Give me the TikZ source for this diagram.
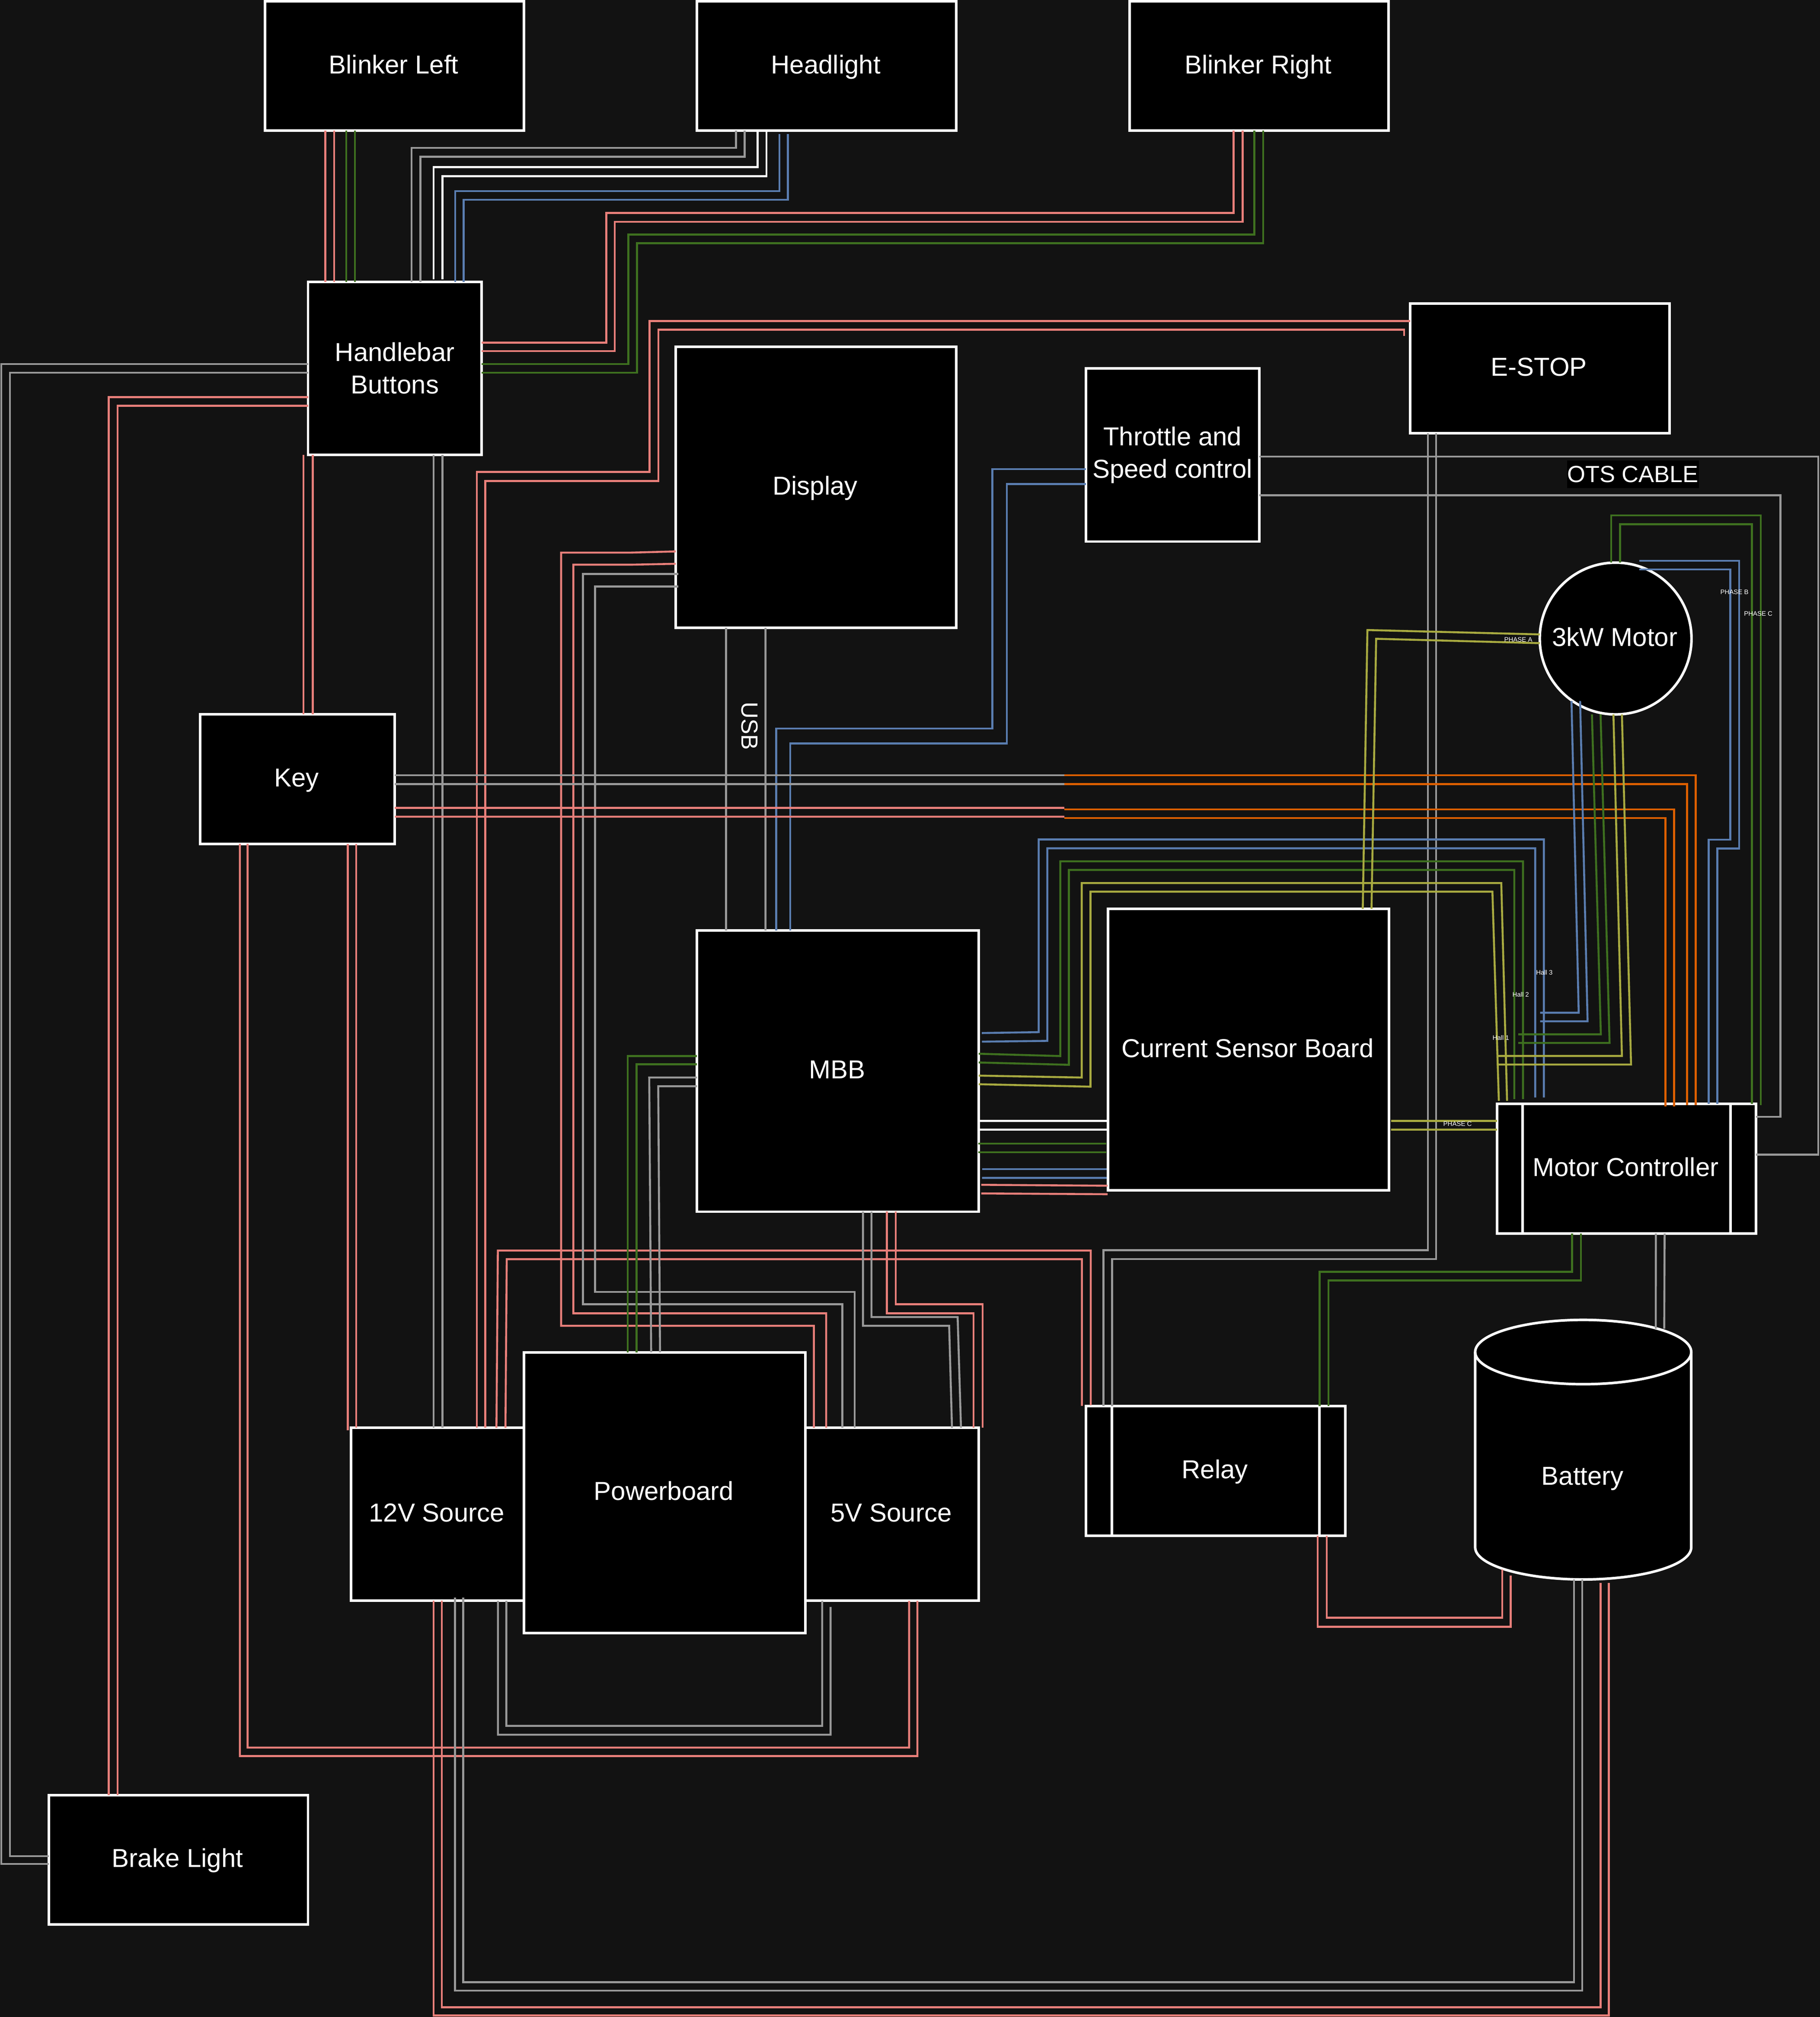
\documentclass[tikz,border=0pt]{standalone}
\usepackage{fontspec}
\setmainfont{Liberation Sans}
\usetikzlibrary{calc,shapes.geometric}
\definecolor{bgdark}{HTML}{121212}
\definecolor{wirepink}{HTML}{E87F7A}
\definecolor{wiregray}{HTML}{999999}
\definecolor{wireblue}{HTML}{5A7DB0}
\definecolor{wiregreen}{HTML}{3E701F}
\definecolor{wireyellow}{HTML}{A8AA40}
\definecolor{wireorange}{HTML}{DD5F00}
\tikzset{
  box/.style={draw=white,fill=black,text=white,line width=2pt,rectangle,outer sep=0pt,inner sep=0pt,
    font=\fontsize{20.17}{25.2}\selectfont},
  oneline/.style={box,text height=17pt,text depth=5.2pt,execute at begin node={\kern-1.4pt}},
  twolines/.style={box,align=center},
  wire/.style={line width=1.55pt},
  pinkw/.style={wire,wirepink},
  grayw/.style={wire,wiregray},
  bluew/.style={wire,wireblue},
  greenw/.style={wire,wiregreen},
  yelloww/.style={wire,wireyellow},
  orangew/.style={wire,wireorange},
  whitew/.style={wire,white},
  tiny label/.style={text=white,inner sep=0pt,font=\fontsize{5.04}{6}\selectfont},
  big label/.style={text=white,inner sep=0pt,font=\fontsize{18.15}{22}\selectfont}
}
\begin{document}
\begin{tikzpicture}[x=1pt,y=-1pt]

  \fill [bgdark] (0,0) rectangle (1415.13,1568.07);
  \useasboundingbox (0,0) rectangle (1415.13,1568.07);

  % boxes
  \node [oneline, minimum width=201.5pt, minimum height=100.6pt] at(306.75,51.3) (blinkl) {Blinker Left};
  \node [oneline, minimum width=201.5pt, minimum height=100.6pt] at(642.75,51.3) (headlight) {Headlight};
  \node [oneline, minimum width=201.5pt, minimum height=100.6pt] at(978.95,51.3) (blinkr) {Blinker Right};
  \node [twolines, minimum width=135pt, minimum height=134.7pt] at(307,286.35) (hbar) {Handlebar\\Buttons};
  \node [oneline, minimum width=218.2pt, minimum height=218.6pt] at(634.5,378.8) (display) {Display};
  \node [twolines, minimum width=134.7pt, minimum height=134.7pt] at(911.65,353.65) (throttle) {Throttle and\\Speed control};
  \node [oneline, minimum width=201.5pt, minimum height=100.7pt] at(1197.25,286.45) (estop) {E-STOP};
  \node [oneline, circle, minimum size=118pt] at(1256.2,496.4) (motor) {3kW Motor};
  \node [oneline, minimum width=151.5pt, minimum height=100.7pt] at(231.25,605.65) (key) {Key};
  \node [oneline, minimum width=219pt, minimum height=218.7pt] at(651.5,832.65) (mbb) {MBB};
  \node [oneline, minimum width=218.5pt, minimum height=218.7pt] at(970.75,815.95) (csb) {Current Sensor Board};
  \node [oneline, minimum width=201.4pt, minimum height=101pt] at(1264.7,908.5) (mctrl) {Motor Controller};
  \node [oneline, minimum width=134.5pt, minimum height=134.5pt] at(340.25,1177.25) (src12) {12V Source};
  \node [oneline, minimum width=134.8pt, minimum height=134.5pt] at(693.6,1177.25) (src5) {5V Source};
  \node [oneline, minimum width=218.7pt, minimum height=218.3pt] at(516.85,1160.45) (powerb) {Powerboard};
  \node [oneline, minimum width=201.5pt, minimum height=101pt] at(945.25,1143.5) (relay) {Relay};
  \node [oneline, minimum width=201.5pt, minimum height=100.6pt] at(138.75,1445.8) (brake) {Brake Light};

  \foreach \n/\d in {mctrl/20,mctrl/181.4,relay/20,relay/181.5}
    \draw [white,line width=2pt] ($(\n.north west)+(\d,0)$) -- ($(\n.south west)+(\d,0)$);

  % battery is a cylinder drawn round an empty node
  \node [inner sep=0pt, outer sep=0pt, minimum width=168pt, minimum height=201.8pt] at(1231,1127) (battery) {};
  \filldraw [white, fill=black, line width=2pt] ($(battery.north west)+(0,25)$)
    arc [start angle=180, end angle=0, x radius=84pt, y radius=25pt]
    -- ($(battery.south east)+(0,-25)$)
    arc [start angle=0, end angle=-180, x radius=84pt, y radius=25pt] -- cycle;
  \draw [white, line width=2pt] ($(battery.north west)+(0,25)$)
    arc [start angle=180, end angle=360, x radius=84pt, y radius=25pt];
  \node [oneline, draw=none, fill=none] at($(battery.center)+(.2,21.4)$) (batterytext) {Battery};

  % handlebar wiring
  \draw [pinkw] ($(blinkl.south west)+(47,0)$) -- ($(hbar.north west)+(13.5,0)$);
  \draw [pinkw] ($(blinkl.south west)+(53.8,0)$) -- ($(hbar.north west)+(20.3,0)$);
  \draw [greenw] ($(blinkl.south west)+(63.2,0)$) -- ($(hbar.north west)+(29.7,0)$);
  \draw [greenw] ($(blinkl.south west)+(70,0)$) -- ($(hbar.north west)+(36.5,0)$);

  \draw [grayw] ($(headlight.south west)+(30.2,0)$) |- (320,115) -- ($(hbar.north west)+(80.5,0)$);
  \draw [grayw] ($(headlight.south west)+(37,0)$) |- (326.8,121.9) -- ($(hbar.north west)+(87.3,0)$);
  \draw [whitew] ($(headlight.south west)+(47,0)$) |- (337.2,130) -- ($(hbar.north west)+(97.7,-2)$);
  \draw [whitew] ($(headlight.south west)+(54,0)$) |- (344,137) -- ($(hbar.north west)+(104.5,-2)$);
  \draw [bluew] ($(headlight.south west)+(64,2.5)$) |- (353.9,148.6) -- ($(hbar.north west)+(114.4,0)$);
  \draw [bluew] ($(headlight.south west)+(70.7,2.5)$) |- (360.6,155.3) -- ($(hbar.north west)+(121.1,0)$);

  \draw [pinkw] ($(hbar.north east)+(0,47.3)$) -| (471.4,165.6) -| ($(blinkr.south west)+(81,0)$);
  \draw [pinkw] ($(hbar.north east)+(0,54)$) -| (478,172.4) -| ($(blinkr.south west)+(88,0)$);
  \draw [greenw] ($(hbar.north east)+(0,64)$) -| (488.5,182.3) -| ($(blinkr.south west)+(97,0)$);
  \draw [greenw] ($(hbar.north east)+(0,70.7)$) -| (495.2,189) -| ($(blinkr.south west)+(104,0)$);

  \draw [grayw] ($(hbar.south west)+(97.7,0)$) -- ($(src12.north west)+(64.2,0)$);
  \draw [grayw] ($(hbar.south west)+(104.5,0)$) -- ($(src12.north west)+(71,0)$);
  \draw [pinkw] ($(hbar.south west)+(-3.6,0)$) -- ($(key.north west)+(80.4,0)$);
  \draw [pinkw] ($(hbar.south west)+(3.6,0)$) -- ($(key.north west)+(87.6,0)$);

  \draw [grayw] ($(hbar.north west)+(0,64)$) -| (1,1449) -- ($(brake.north west)+(0,53.5)$);
  \draw [grayw] ($(hbar.north west)+(0,70.7)$) -| (7.7,1443) -- ($(brake.north west)+(0,47.5)$);
  \draw [pinkw] ($(hbar.north west)+(0,89.7)$) -| ($(brake.north west)+(46.6,0)$);
  \draw [pinkw] ($(hbar.north west)+(0,96.5)$) -| ($(brake.north west)+(53.4,0)$);

  % e-stop and relay
  \draw [pinkw] ($(src12.north west)+(97.7,0)$) |- (505,366.9) |- ($(estop.north west)+(0,13.4)$);
  \draw [pinkw] ($(src12.north west)+(104.3,0)$) |- (511.9,374) |- (1091.7,256.3) -- ($(estop.north west)+(-4.8,25.1)$);
  \draw [grayw] ($(estop.south west)+(13.8,0)$) |- (857.9,972) -- ($(relay.north west)+(13.4,0)$);
  \draw [grayw] ($(estop.south west)+(20.1,0)$) |- (864.6,978.8) -- ($(relay.north west)+(20.1,0)$);
  \draw [pinkw] ($(src12.north west)+(113,0)$) -- (387.1,972.2) -| ($(relay.north west)+(3.6,-.6)$);
  \draw [pinkw] ($(src12.north west)+(120,0)$) -- (394,978.9) -| ($(relay.north west)+(-3.3,0)$);
  \draw [greenw] ($(mctrl.south west)+(58.4,0)$) |- (1026.1,988.8) -- ($(relay.north east)+(-19.9,0)$);
  \draw [greenw] ($(mctrl.south west)+(65.2,0)$) |- (1032.9,995.5) -- ($(relay.north east)+(-13.1,0)$);
  \draw [pinkw] ($(relay.south west)+(180,0)$) |- (1174.6,1264.6) -- ($(battery.center)+(-56.4,98)$);
  \draw [pinkw] ($(relay.south west)+(187.1,0)$) |- (1168,1257.7) -- ($(battery.center)+(-63,93.3)$);

  % display
  \draw [pinkw] ($(display.north west)+(0,159.2)$) -- (490.7,429.6) -| (436.3,1030.7) -| ($(src5.north west)+(6.6,0)$);
  \draw [pinkw] ($(display.north west)+(0,168.8)$) -- (490.7,439) -| (445.8,1021) -| ($(src5.north west)+(16.2,0)$);
  \draw [grayw] ($(display.north west)+(2,176.8)$) -| (453.2,1014) -| ($(src5.north west)+(28.8,0)$);
  \draw [grayw] ($(display.north west)+(2,186.5)$) -| (462.7,1004.3) -| ($(src5.north west)+(38.3,0)$);
  \draw [grayw] ($(display.south west)+(39.2,0)$) -- ($(mbb.north west)+(22.6,0)$);
  \draw [grayw] ($(display.south west)+(69.8,0)$) -- ($(mbb.north west)+(53.2,0)$);
  \draw [bluew] ($(throttle.north west)+(0,78.4)$) -| (771.5,566.4) -| ($(mbb.north west)+(61.5,0)$);
  \draw [bluew] ($(throttle.north west)+(0,90)$) -| (782.8,577.9) -| ($(mbb.north west)+(72.5,0)$);

  % key to controller
  \coordinate (tap1) at (827.6,602.7);
  \coordinate (tap2) at (827.6,609.5);
  \coordinate (tap3) at (827.6,628.1);
  \coordinate (tap4) at (827.6,634.9);
  \draw [grayw] ($(key.north east)+(0,47.4)$) -- (tap1);
  \draw [grayw] ($(key.north east)+(0,54.2)$) -- (tap2);
  \draw [pinkw] ($(key.north east)+(0,72.8)$) -- (tap3);
  \draw [pinkw] ($(key.north east)+(0,79.6)$) -- (tap4);
  \draw [orangew] (tap1) -| ($(mctrl.north west)+(154.4,1)$);
  \draw [orangew] (tap2) -| ($(mctrl.north west)+(147.7,1)$);
  \draw [orangew] ($(tap3)+(0,1.2)$) -| ($(mctrl.north west)+(137.6,2)$);
  \draw [orangew] ($(tap4)+(0,1)$) -| ($(mctrl.north west)+(131,2)$);
  \draw [pinkw] ($(key.south west)+(31,0)$) |- (713.3,1365.2) -- ($(src5.south west)+(87.1,0)$);
  \draw [pinkw] ($(key.south west)+(37,0)$) |- (706.9,1358.6) -- ($(src5.south west)+(80.7,0)$);
  \draw [pinkw] ($(key.south west)+(115,0)$) -- ($(src12.north west)+(-2.5,2)$);
  \draw [pinkw] ($(key.south west)+(121.5,0)$) -- ($(src12.north west)+(4,0)$);

  % mbb to controller
  \draw [bluew] ($(mbb.north east)+(2.4,79.8)$) -- (807.6,802.4) |- (1200.4,652.6) -- ($(mctrl.north west)+(36.4,-4.8)$);
  \draw [bluew] ($(mbb.north east)+(2.5,86.5)$) -- (814.3,809.2) |- (1193.7,659.5) -- ($(mctrl.north west)+(29.7,-4.8)$);
  \draw [greenw] ($(mbb.north east)+(0,95.9)$) -- (824.4,821) |- (1184.2,669.6) -- ($(mctrl.north west)+(20.2,-3.5)$);
  \draw [greenw] ($(mbb.north east)+(0,102.7)$) -- (831.1,827.8) |- (1177.4,676.3) -- ($(mctrl.north west)+(13.4,-3.5)$);
  \draw [yelloww] ($(mbb.north east)+(0,112.9)$) -- (841.1,837.7) |- (1167.3,686.5) -- ($(mctrl.north west)+(7.8,-2.2)$);
  \draw [yelloww] ($(mbb.north east)+(0,119.6)$) -- (847.9,844.8) |- (1160.4,693.2) -- ($(mctrl.north west)+(1.4,-2.2)$);

  % motor
  \draw [bluew] ($(motor.south)+(-34.3,-10.4)$) -- (1227.5,787.3) -- ($(mctrl.north west)+(33.5,-70.7)$);
  \draw [bluew] ($(motor.south)+(-27.6,-10.4)$) -- (1234.4,794) -- ($(mctrl.north west)+(33.5,-64)$);
  \draw [greenw] ($(motor.south)+(-18.4,0)$) -- (1244.7,804.1) -- ($(mctrl.north west)+(16.5,-53.9)$);
  \draw [greenw] ($(motor.south)+(-11.7,0)$) -- (1251.5,810.8) -- ($(mctrl.north west)+(16.5,-47.2)$);
  \draw [yelloww] ($(motor.south)+(-1.7,0)$) -- (1261.1,820.9) -- ($(mctrl.north west)+(-.3,-37.1)$);
  \draw [yelloww] ($(motor.south)+(4.9,0)$) -- (1268.2,827.6) -- ($(mctrl.north west)+(-.3,-30.4)$);
  \draw [greenw] ($(motor.north)+(-3.4,0)$) |- (1369,400.7) -- ($(mctrl.north west)+(205,1)$);
  \draw [greenw] ($(motor.north)+(3.4,0)$) |- (1362.2,407.5) -- ($(mctrl.north west)+(198.2,0)$);
  \draw [bluew] ($(motor.north)+(18.3,-1.4)$) -| (1352.2,659.6) -| ($(mctrl.north west)+(171.3,0)$);
  \draw [bluew] ($(motor.north)+(18.3,5.3)$) -| (1345.4,652.8) -| ($(mctrl.north west)+(164.6,0)$);
  \draw [yelloww] ($(motor.west)+(0,-3.2)$) -- (1063.2,489.8) -- ($(csb.north west)+(198.1,0)$);
  \draw [yelloww] ($(motor.west)+(0,3.6)$) -- (1070,496.6) -- ($(csb.north west)+(204.9,0)$);

  % current sensor board
  \draw [yelloww] ($(csb.north east)+(1.5,164.9)$) -- ($(mctrl.north west)+(0,13.5)$);
  \draw [yelloww] ($(csb.north east)+(1.5,171.6)$) -- ($(mctrl.north west)+(0,20.2)$);
  \draw [whitew] ($(mbb.north east)+(0,148.1)$) -- ($(csb.north west)+(0,164.8)$);
  \draw [whitew] ($(mbb.north east)+(0,154.9)$) -- ($(csb.north west)+(0,171.6)$);
  \draw [greenw] ($(mbb.north east)+(-.4,165.8)$) -- ($(csb.north west)+(-1.4,182.5)$);
  \draw [greenw] ($(mbb.north east)+(-.4,172.5)$) -- ($(csb.north west)+(-1.4,189.2)$);
  \draw [bluew] ($(mbb.north east)+(2.6,185.6)$) -- ($(csb.north west)+(-1,202.3)$);
  \draw [bluew] ($(mbb.north east)+(2.6,192.4)$) -- ($(csb.north west)+(-1,209.1)$);
  \draw [pinkw] ($(mbb.north east)+(2,197.8)$) -- ($(csb.north west)+(-.3,215.2)$);
  \draw [pinkw] ($(mbb.north east)+(2,204.5)$) -- ($(csb.north west)+(-.3,221.8)$);

  % ots cable
  \draw [grayw] ($(throttle.north east)+(0,68.7)$) -| (1413.7,897.7) -- ($(mctrl.north east)+(0,39.7)$);
  \draw [grayw] ($(throttle.north east)+(0,98.7)$) -| (1384.4,868.2) -- ($(mctrl.north east)+(0,10.2)$);
  \draw [grayw] ($(mctrl.south west)+(123.5,0)$) -- ($(battery.center)+(56.4,-94)$);
  \draw [grayw] ($(mctrl.south west)+(130.3,0)$) -- ($(battery.center)+(63,-94)$);

  % mbb to power
  \draw [greenw] ($(mbb.north west)+(0,97.7)$) -| ($(powerb.north west)+(80.5,0)$);
  \draw [greenw] ($(mbb.north west)+(0,104.1)$) -| ($(powerb.north west)+(87.5,0)$);
  \draw [grayw] ($(mbb.north west)+(0,114.4)$) -- (504.8,837.7) -- ($(powerb.north west)+(98.8,0)$);
  \draw [grayw] ($(mbb.north west)+(0,121.2)$) -- (511.8,844.5) -- ($(powerb.north west)+(105.7,0)$);
  \draw [grayw] ($(mbb.south west)+(129,0)$) |- (738,1030.7) -- ($(src5.north west)+(114,0)$);
  \draw [grayw] ($(mbb.south west)+(135.6,0)$) |- (744.6,1023.9) -- ($(src5.north west)+(121,0)$);
  \draw [pinkw] ($(mbb.south west)+(147.6,0)$) |- (757,1021) -- ($(src5.north west)+(130.8,0)$);
  \draw [pinkw] ($(mbb.south west)+(154.5,0)$) |- (764,1014) -- ($(src5.north west)+(137.8,0)$);

  % sources and battery
  \draw [pinkw] ($(src12.south west)+(64.1,0)$) |- (1250.9,1566.8) -- ($(battery.center)+(19.9,103.5)$);
  \draw [pinkw] ($(src12.south west)+(70.5,0)$) |- (1244.5,1560.4) -- ($(battery.center)+(13.5,103.5)$);
  \draw [grayw] ($(src12.south west)+(80.8,-2.5)$) |- (1230.3,1547.6) -- ($(battery.center)+(-.7,100.8)$);
  \draw [grayw] ($(src12.south west)+(87.2,-2.5)$) |- (1223.9,1541) -- ($(battery.center)+(-7.1,100.8)$);
  \draw [grayw] ($(src12.south west)+(114.2,0)$) |- (645.8,1348.6) -- ($(src5.south west)+(19.6,4.8)$);
  \draw [grayw] ($(src12.south west)+(120.7,0)$) |- (639.3,1341.7) -- ($(src5.south west)+(13.1,0)$);

  % labels
  \node [big label, fill=black, minimum width=102.6pt, minimum height=21.5pt] at(1269.7,368.7) (otslabel) {OTS CABLE};
  \node [big label, rotate=-90] at(583,564.5) (usblabel) {USB};
  \node [tiny label] at(1180.5,497.3) (phasea) {PHASE A};
  \node [tiny label] at(1348.6,460.4) (phaseb) {PHASE B};
  \node [tiny label] at(1367.1,477) (phasec) {PHASE C};
  \node [tiny label] at(1133.3,873.8) (phasec2) {PHASE C};
  \node [tiny label] at(1200.8,756) (hallthree) {Hall 3};
  \node [tiny label] at(1182.4,773) (halltwo) {Hall 2};
  \node [tiny label] at(1167,806.6) (hallone) {Hall 1};

\end{tikzpicture}
\end{document}
